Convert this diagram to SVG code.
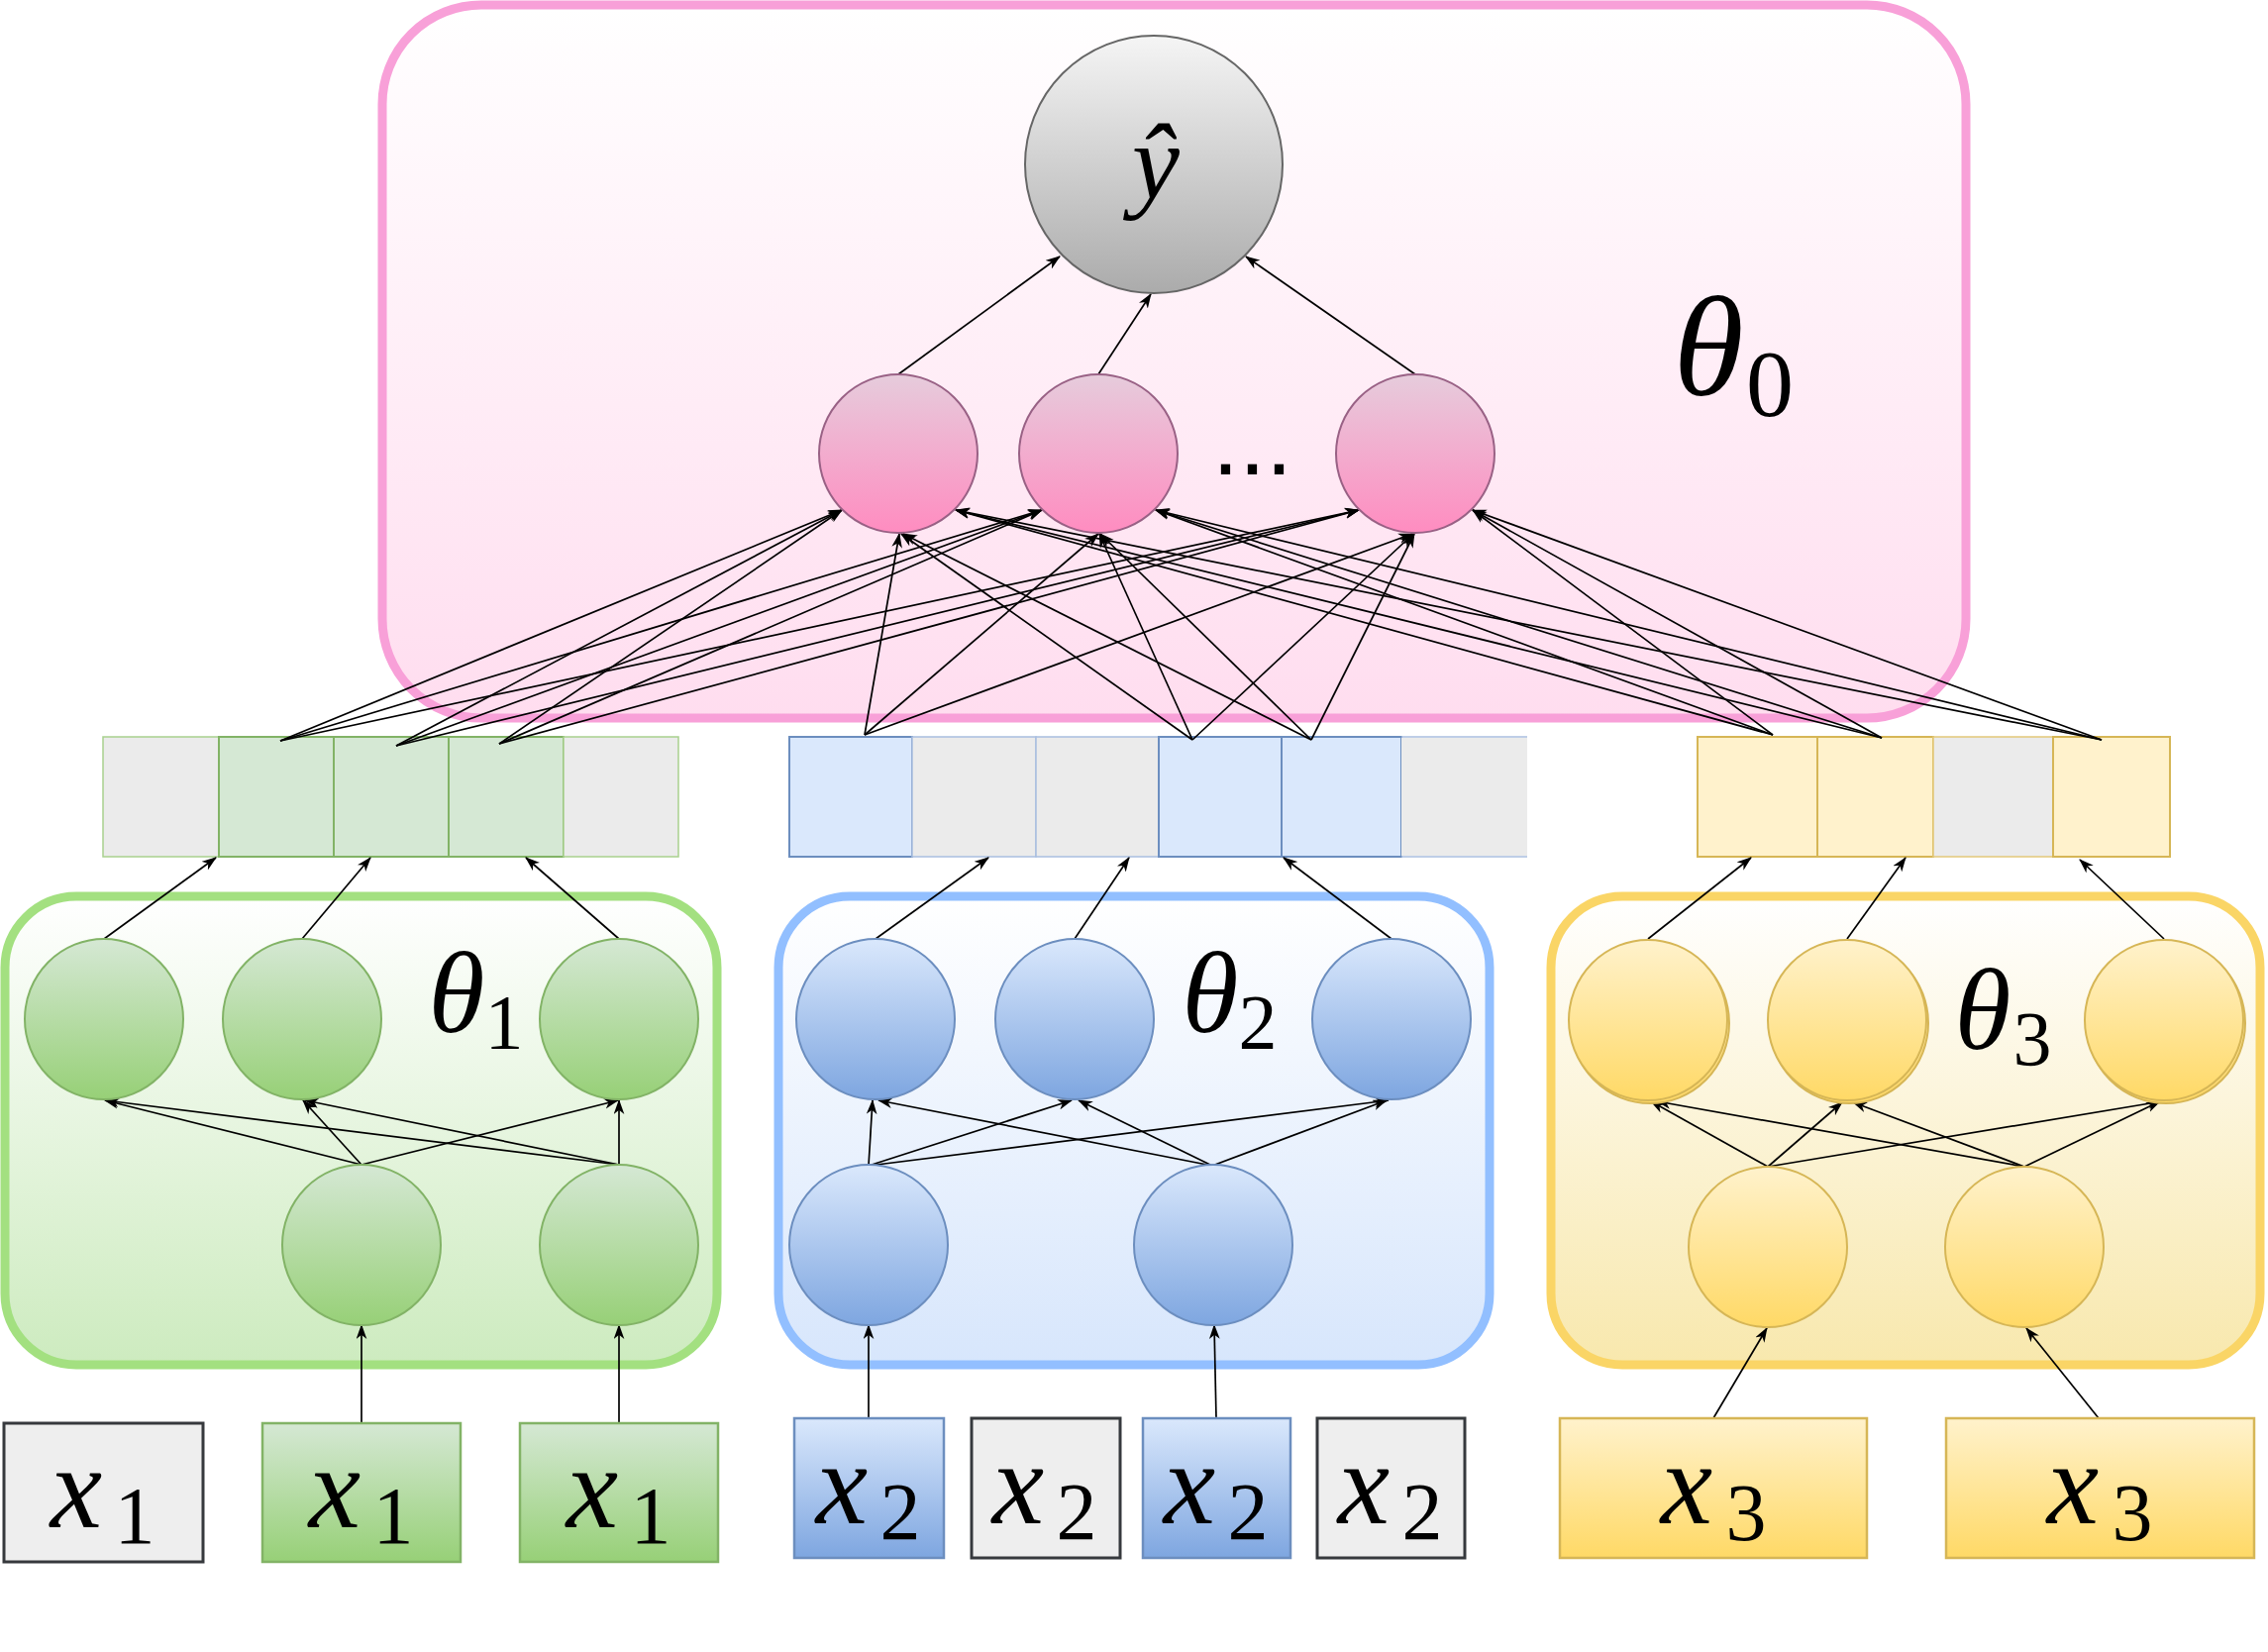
<svg xmlns="http://www.w3.org/2000/svg" width="2290" height="1668" viewBox="0 0 2290 1668">
<defs>
<style>
.e{fill:none;stroke:#000;stroke-width:1.7;marker-end:url(#arr)}
.gn{fill:url(#gGreenNode);stroke:#82B366;stroke-width:2}
.bn{fill:url(#gBlueNode);stroke:#6C8EBF;stroke-width:2}
.yn{fill:url(#gYellowNode);stroke:#D6B656;stroke-width:2}
.pn{fill:url(#gPinkNode);stroke:#996185;stroke-width:2}
</style>
<marker id="arr" viewBox="0 0 14 10" refX="13" refY="5" markerWidth="15" markerHeight="11" markerUnits="userSpaceOnUse" orient="auto">
<path d="M0,0 L14,5 L0,10 L4,5 Z" fill="#000"/>
</marker>
<linearGradient id="gGreenNode" x1="0" y1="0" x2="0" y2="1"><stop offset="0" stop-color="#D5E8D4"/><stop offset="1" stop-color="#97D077"/></linearGradient>
<linearGradient id="gBlueNode" x1="0" y1="0" x2="0" y2="1"><stop offset="0" stop-color="#DAE8FC"/><stop offset="1" stop-color="#7EA6E0"/></linearGradient>
<linearGradient id="gYellowNode" x1="0" y1="0" x2="0" y2="1"><stop offset="0" stop-color="#FFF2CC"/><stop offset="1" stop-color="#FFD966"/></linearGradient>
<linearGradient id="gPinkNode" x1="0" y1="0" x2="0" y2="1"><stop offset="0" stop-color="#E6CCDC"/><stop offset="1" stop-color="#FF8CC0"/></linearGradient>
<linearGradient id="gGray" x1="0" y1="0" x2="0" y2="1"><stop offset="0" stop-color="#F5F5F5"/><stop offset="1" stop-color="#ABABAB"/></linearGradient>
<linearGradient id="gPinkBox" x1="0" y1="0" x2="0" y2="1"><stop offset="0" stop-color="#FFFFFF"/><stop offset="1" stop-color="#FFDDEF"/></linearGradient>
<linearGradient id="gGreenBox" x1="0" y1="0" x2="0" y2="1"><stop offset="0" stop-color="#FFFFFF"/><stop offset="1" stop-color="#CDEBBF"/></linearGradient>
<linearGradient id="gBlueBox" x1="0" y1="0" x2="0" y2="1"><stop offset="0" stop-color="#FFFFFF"/><stop offset="1" stop-color="#D7E6FC"/></linearGradient>
<linearGradient id="gYellowBox" x1="0" y1="0" x2="0" y2="1"><stop offset="0" stop-color="#FFFFFF"/><stop offset="1" stop-color="#F8E8AD"/></linearGradient>
</defs>
<rect width="2290" height="1668" fill="#FFFFFF"/>

<!-- containers -->
<g id="box-theta0">
<rect x="386" y="5" width="1599" height="720" rx="100" fill="url(#gPinkBox)" stroke="#F8A0D8" stroke-width="9"/>
<text font-family="Liberation Serif, serif" font-style="italic" x="1725" y="399" font-size="145" text-anchor="middle">θ<tspan font-style="normal" x="1787" y="420" font-size="96">0</tspan></text>
</g>
<g id="box-theta1">
<rect x="5" y="905" width="719" height="473" rx="72" fill="url(#gGreenBox)" stroke="#A3E080" stroke-width="9"/>
<text font-family="Liberation Serif, serif" font-style="italic" x="461" y="1042" font-size="116" text-anchor="middle">θ<tspan font-style="normal" x="509" y="1058" font-size="78">1</tspan></text>
</g>
<g id="box-theta2">
<rect x="786" y="905" width="718" height="473" rx="72" fill="url(#gBlueBox)" stroke="#92BFFF" stroke-width="9"/>
<text font-family="Liberation Serif, serif" font-style="italic" x="1222" y="1042" font-size="116" text-anchor="middle">θ<tspan font-style="normal" x="1270" y="1058" font-size="78">2</tspan></text>
</g>
<g id="box-theta3">
<rect x="1566" y="905" width="716" height="473" rx="72" fill="url(#gYellowBox)" stroke="#FAD566" stroke-width="9"/>
<text font-family="Liberation Serif, serif" font-style="italic" x="2002" y="1059" font-size="116" text-anchor="middle">θ<tspan font-style="normal" x="2052" y="1075" font-size="78">3</tspan></text>
</g>

<!-- embedding vectors -->
<g id="vec-green">
<rect x="104" y="744" width="117" height="121" fill="#EBEBEB" stroke="#A9D18E" stroke-width="1.5"/>
<rect x="221" y="744" width="116" height="121" fill="#D5E8D4" stroke="#82B366" stroke-width="2"/>
<rect x="337" y="744" width="116" height="121" fill="#D5E8D4" stroke="#82B366" stroke-width="2"/>
<rect x="453" y="744" width="116" height="121" fill="#D5E8D4" stroke="#82B366" stroke-width="2"/>
<rect x="569" y="744" width="116" height="121" fill="#EBEBEB" stroke="#A9D18E" stroke-width="1.5"/>
</g>
<g id="vec-blue">
<rect x="797" y="744" width="124" height="121" fill="#DAE8FC" stroke="#6C8EBF" stroke-width="2"/>
<rect x="921" y="744" width="125" height="121" fill="#EBEBEB" stroke="#A9BFE0" stroke-width="1.5"/>
<rect x="1046" y="744" width="124" height="121" fill="#EBEBEB" stroke="#A9BFE0" stroke-width="1.5"/>
<rect x="1170" y="744" width="124" height="121" fill="#DAE8FC" stroke="#6C8EBF" stroke-width="2"/>
<rect x="1294" y="744" width="121" height="121" fill="#DAE8FC" stroke="#6C8EBF" stroke-width="2"/>
<path d="M1415,744 H1542 M1415,865 H1542" stroke="#A9BFE0" stroke-width="1.5"/>
<rect x="1415" y="745" width="127" height="119" fill="#EBEBEB"/>
</g>
<g id="vec-yellow">
<rect x="1714" y="744" width="121" height="121" fill="#FFF2CC" stroke="#D6B656" stroke-width="2"/>
<rect x="1835" y="744" width="117" height="121" fill="#FFF2CC" stroke="#D6B656" stroke-width="2"/>
<rect x="1952" y="744" width="121" height="121" fill="#EBEBEB" stroke="#E3C97A" stroke-width="1.5"/>
<rect x="2073" y="744" width="118" height="121" fill="#FFF2CC" stroke="#D6B656" stroke-width="2"/>
</g>

<!-- connectors -->
<g id="connectors">
<path class="e" d="M907,378 L1070,259"/>
<path class="e" d="M1109,378 L1162,297"/>
<path class="e" d="M1429,378 L1258,259"/>
<path class="e" d="M283,748 L850,515"/>
<path class="e" d="M283,748 L1052,515"/>
<path class="e" d="M283,748 L1372,515"/>
<path class="e" d="M400,753 L850,515"/>
<path class="e" d="M400,753 L1052,515"/>
<path class="e" d="M400,753 L1372,515"/>
<path class="e" d="M504,751 L850,515"/>
<path class="e" d="M504,751 L1052,515"/>
<path class="e" d="M504,751 L1372,515"/>
<path class="e" d="M873,742 L908,539"/>
<path class="e" d="M873,742 L1109,539"/>
<path class="e" d="M873,742 L1426,539"/>
<path class="e" d="M1204,747 L910,539"/>
<path class="e" d="M1204,747 L1110,539"/>
<path class="e" d="M1204,747 L1427,539"/>
<path class="e" d="M1324,747 L912,539"/>
<path class="e" d="M1324,747 L1111,539"/>
<path class="e" d="M1324,747 L1428,539"/>
<path class="e" d="M1790,742 L965,515"/>
<path class="e" d="M1790,742 L1167,515"/>
<path class="e" d="M1790,742 L1487,515"/>
<path class="e" d="M1900,745 L965,515"/>
<path class="e" d="M1900,745 L1167,515"/>
<path class="e" d="M1900,745 L1487,515"/>
<path class="e" d="M2122,747 L965,515"/>
<path class="e" d="M2122,747 L1167,515"/>
<path class="e" d="M2122,747 L1487,515"/>
<path class="e" d="M105,948 L218,866"/>
<path class="e" d="M305,948 L374,866"/>
<path class="e" d="M625,948 L531,866"/>
<path class="e" d="M365,1176 L106,1111"/>
<path class="e" d="M365,1176 L306,1111"/>
<path class="e" d="M365,1176 L624,1111"/>
<path class="e" d="M625,1176 L106,1111"/>
<path class="e" d="M625,1176 L308,1111"/>
<path class="e" d="M625,1176 L625,1111"/>
<path class="e" d="M365,1437 L365,1338"/>
<path class="e" d="M625,1437 L625,1338"/>
<path class="e" d="M884,948 L998,866"/>
<path class="e" d="M1085,948 L1140,866"/>
<path class="e" d="M1405,948 L1296,866"/>
<path class="e" d="M877,1177 L881,1111"/>
<path class="e" d="M877,1177 L1082,1111"/>
<path class="e" d="M877,1177 L1402,1111"/>
<path class="e" d="M1224,1177 L887,1111"/>
<path class="e" d="M1224,1177 L1089,1111"/>
<path class="e" d="M1224,1177 L1400,1111"/>
<path class="e" d="M877,1432 L877,1338"/>
<path class="e" d="M1228,1432 L1226,1338"/>
<path class="e" d="M1664,948 L1768,866"/>
<path class="e" d="M1865,948 L1924,866"/>
<path class="e" d="M2185,948 L2100,868"/>
<path class="e" d="M1785,1178 L1667,1112"/>
<path class="e" d="M1785,1178 L1860,1113"/>
<path class="e" d="M1785,1178 L2183,1112"/>
<path class="e" d="M2044,1178 L1673,1112"/>
<path class="e" d="M2044,1178 L1871,1113"/>
<path class="e" d="M2044,1178 L2181,1112"/>
<path class="e" d="M1730,1432 L1784,1341"/>
<path class="e" d="M2119,1432 L2046,1341"/>
</g>

<!-- output and hidden nodes -->
<g id="node-yhat">
<circle cx="1165" cy="166" r="130" fill="url(#gGray)" stroke="#666666" stroke-width="2"/>
<text font-family="Liberation Serif, serif" font-style="italic" x="1167" y="200" font-size="108" text-anchor="middle">ŷ</text>
</g>
<g id="node-h1"><circle class="pn" cx="907" cy="458" r="80"/></g>
<g id="node-h2"><circle class="pn" cx="1109" cy="458" r="80"/></g>
<g id="node-h3"><circle class="pn" cx="1429" cy="458" r="80"/></g>
<g id="label-dots"><text x="1224" y="479" font-family="Liberation Sans, Arial, sans-serif" font-size="97" fill="#000">...</text></g>

<g id="g-top1"><ellipse class="gn" cx="105" cy="1029" rx="80" ry="81"/></g>
<g id="g-top2"><ellipse class="gn" cx="305" cy="1029" rx="80" ry="81"/></g>
<g id="g-top3"><ellipse class="gn" cx="625" cy="1029" rx="80" ry="81"/></g>
<g id="g-bot1"><ellipse class="gn" cx="365" cy="1257" rx="80" ry="81"/></g>
<g id="g-bot2"><ellipse class="gn" cx="625" cy="1257" rx="80" ry="81"/></g>

<g id="b-top1"><ellipse class="bn" cx="884" cy="1029" rx="80" ry="81"/></g>
<g id="b-top2"><ellipse class="bn" cx="1085" cy="1029" rx="80" ry="81"/></g>
<g id="b-top3"><ellipse class="bn" cx="1405" cy="1029" rx="80" ry="81"/></g>
<g id="b-bot1"><ellipse class="bn" cx="877" cy="1257" rx="80" ry="81"/></g>
<g id="b-bot2"><ellipse class="bn" cx="1225" cy="1257" rx="80" ry="81"/></g>

<g id="y-top1"><ellipse class="yn" cx="1666" cy="1033" rx="80" ry="81"/><ellipse class="yn" cx="1664" cy="1030" rx="80" ry="81"/></g>
<g id="y-top2"><ellipse class="yn" cx="1867" cy="1033" rx="80" ry="81"/><ellipse class="yn" cx="1865" cy="1030" rx="80" ry="81"/></g>
<g id="y-top3"><ellipse class="yn" cx="2187" cy="1033" rx="80" ry="81"/><ellipse class="yn" cx="2185" cy="1030" rx="80" ry="81"/></g>
<g id="y-bot1"><ellipse class="yn" cx="1785" cy="1259" rx="80" ry="81"/></g>
<g id="y-bot2"><ellipse class="yn" cx="2044" cy="1259" rx="80" ry="81"/></g>

<!-- inputs -->
<g id="in-x1-a">
<rect x="4" y="1437" width="201" height="140" fill="#EEEEEE" stroke="#36393D" stroke-width="3"/>
<text font-family="Liberation Serif, serif" font-style="italic" x="77" y="1542" font-size="118" text-anchor="middle">x<tspan font-style="normal" x="136" y="1558" font-size="82">1</tspan></text>
</g>
<g id="in-x1-b">
<rect x="265" y="1437" width="200" height="140" fill="url(#gGreenNode)" stroke="#82B366" stroke-width="2.5"/>
<text font-family="Liberation Serif, serif" font-style="italic" x="338" y="1542" font-size="118" text-anchor="middle">x<tspan font-style="normal" x="397" y="1558" font-size="82">1</tspan></text>
</g>
<g id="in-x1-c">
<rect x="525" y="1437" width="200" height="140" fill="url(#gGreenNode)" stroke="#82B366" stroke-width="2.5"/>
<text font-family="Liberation Serif, serif" font-style="italic" x="598" y="1542" font-size="118" text-anchor="middle">x<tspan font-style="normal" x="657" y="1558" font-size="82">1</tspan></text>
</g>
<g id="in-x2-a">
<rect x="802" y="1432" width="151" height="141" fill="url(#gBlueNode)" stroke="#6C8EBF" stroke-width="2.5"/>
<text font-family="Liberation Serif, serif" font-style="italic" x="850" y="1538" font-size="118" text-anchor="middle">x<tspan font-style="normal" x="909" y="1554" font-size="82">2</tspan></text>
</g>
<g id="in-x2-b">
<rect x="981" y="1432" width="150" height="141" fill="#EEEEEE" stroke="#36393D" stroke-width="3"/>
<text font-family="Liberation Serif, serif" font-style="italic" x="1028" y="1538" font-size="118" text-anchor="middle">x<tspan font-style="normal" x="1087" y="1554" font-size="82">2</tspan></text>
</g>
<g id="in-x2-c">
<rect x="1154" y="1432" width="149" height="141" fill="url(#gBlueNode)" stroke="#6C8EBF" stroke-width="2.5"/>
<text font-family="Liberation Serif, serif" font-style="italic" x="1201" y="1538" font-size="118" text-anchor="middle">x<tspan font-style="normal" x="1260" y="1554" font-size="82">2</tspan></text>
</g>
<g id="in-x2-d">
<rect x="1330" y="1432" width="149" height="141" fill="#EEEEEE" stroke="#36393D" stroke-width="3"/>
<text font-family="Liberation Serif, serif" font-style="italic" x="1377" y="1538" font-size="118" text-anchor="middle">x<tspan font-style="normal" x="1436" y="1554" font-size="82">2</tspan></text>
</g>
<g id="in-x3-a">
<rect x="1575" y="1432" width="310" height="141" fill="url(#gYellowNode)" stroke="#D6B656" stroke-width="2.5"/>
<text font-family="Liberation Serif, serif" font-style="italic" x="1703" y="1538" font-size="118" text-anchor="middle">x<tspan font-style="normal" x="1763" y="1555" font-size="82">3</tspan></text>
</g>
<g id="in-x3-b">
<rect x="1965" y="1432" width="311" height="141" fill="url(#gYellowNode)" stroke="#D6B656" stroke-width="2.5"/>
<text font-family="Liberation Serif, serif" font-style="italic" x="2093" y="1538" font-size="118" text-anchor="middle">x<tspan font-style="normal" x="2153" y="1555" font-size="82">3</tspan></text>
</g>
</svg>
